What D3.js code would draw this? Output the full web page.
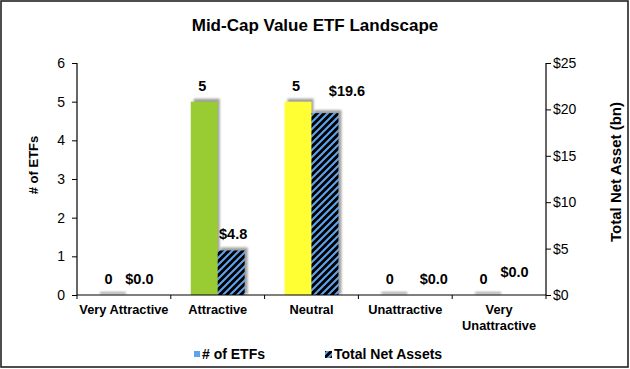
<!DOCTYPE html>
<html><head><meta charset="utf-8">
<script src="https://cdn.jsdelivr.net/npm/d3@7/dist/d3.min.js"></script>
<style>body{margin:0;background:#fff}svg{display:block}text{font-family:Arial,"Liberation Sans",sans-serif}</style>
</head><body>
<svg id="c" width="630" height="369"></svg>
<script>
const categories = ["Very Attractive", "Attractive", "Neutral", "Unattractive", "Very Unattractive"];
const etfCounts = [0, 5, 5, 0, 0];
const netAssets = [0.0, 4.8, 19.6, 0.0, 0.0];
const countColors = ["#2E8B3E", "#99CC33", "#FFFF33", "#FF6633", "#CC0000"];
const leftTicks = [0, 1, 2, 3, 4, 5, 6];
const rightTicks = [0, 5, 10, 15, 20, 25];
const seriesNames = ["# of ETFs", "Total Net Assets"];

const svg = d3.select("#c");
const M = {l: 77, r: 546, t: 63, b: 295};

const defs = svg.append("defs");
const pat = defs.append("pattern").attr("id", "hatch").attr("patternUnits", "userSpaceOnUse")
  .attr("width", 7).attr("height", 7);
pat.append("rect").attr("width", 7).attr("height", 7).attr("fill", "#000");
pat.append("path").attr("d", "M-1,1 l2,-2 M0,7 l7,-7 M6,8 l2,-2")
  .attr("stroke", "#5DA3EE").attr("stroke-width", 2.1);
const blur = defs.append("filter").attr("id", "blur").attr("x", "-30%").attr("y", "-30%").attr("width", "160%").attr("height", "160%");
blur.append("feGaussianBlur").attr("stdDeviation", 1);

svg.append("rect").attr("x", 1).attr("y", 1).attr("width", 627).attr("height", 366)
  .attr("fill", "#fff").attr("stroke", "#222").attr("stroke-width", 1.6);

svg.append("text").attr("x", 315).attr("y", 31).attr("text-anchor", "middle")
  .attr("font-size", 17).attr("font-weight", "bold").text("Mid-Cap Value ETF Landscape");

const x = d3.scaleBand().domain(categories).range([M.l, M.r]).padding(0);
const x1 = d3.scaleBand().domain([0, 1]).range([0, x.bandwidth()]).paddingInner(0).paddingOuter(0.74);
const yL = d3.scaleLinear().domain([0, 6]).range([M.b, M.t]);
const yR = d3.scaleLinear().domain([0, 25]).range([M.b, M.t]);

const data = categories.map((c, i) => ({c, i, n: etfCounts[i], a: netAssets[i]}));

// shadows
const sh = svg.append("g").attr("filter", "url(#blur)").attr("fill", "#a0a0a0");
data.forEach(d => {
  const bx = x(d.c) + x1(0);
  const top = yL(d.n);
  sh.append("rect").attr("x", bx + 3).attr("y", top - 3).attr("width", x1.bandwidth() - 1)
    .attr("height", Math.max(M.b - top, 0) + 2);
  if (d.a > 0) {
    const bx2 = x(d.c) + x1(1);
    const t2 = yR(d.a);
    sh.append("rect").attr("x", bx2 + 3).attr("y", t2 - 3).attr("width", x1.bandwidth())
      .attr("height", M.b - t2 + 2);
  }
});

// bars
svg.append("g").selectAll("rect").data(data).join("rect")
  .attr("x", d => x(d.c) + x1(0)).attr("y", d => yL(d.n))
  .attr("width", x1.bandwidth()).attr("height", d => M.b - yL(d.n))
  .attr("fill", d => countColors[d.i]);
svg.append("g").selectAll("rect").data(data).join("rect")
  .attr("x", d => x(d.c) + x1(1)).attr("y", d => yR(d.a))
  .attr("width", x1.bandwidth()).attr("height", d => M.b - yR(d.a))
  .attr("fill", "url(#hatch)");

// axes
const axL = svg.append("g").attr("transform", `translate(${M.l},0)`)
  .call(d3.axisLeft(yL).tickValues(leftTicks).tickFormat(d3.format("d")).tickSize(5).tickPadding(7));
const axR = svg.append("g").attr("transform", `translate(${M.r},0)`)
  .call(d3.axisRight(yR).tickValues(rightTicks).tickFormat(d => "$" + d).tickSize(5).tickPadding(2));
[axL, axR].forEach(a => {
  a.select(".domain").attr("stroke", "#000").attr("stroke-width", 1.2).attr("d", `M0,${M.t}V${M.b}`);
  a.selectAll(".tick line").attr("stroke", "#000");
  a.selectAll(".tick text").attr("font-size", 14).attr("fill", "#000").attr("font-family", "Arial, Liberation Sans, sans-serif");
});

const axB = svg.append("g");
axB.append("line").attr("x1", M.l).attr("x2", M.r).attr("y1", M.b).attr("y2", M.b).attr("stroke", "#000").attr("stroke-width", 1.2);
const bounds = categories.map(c => x(c)).concat([M.r]);
axB.selectAll("line.tk").data(bounds).join("line").attr("class", "tk")
  .attr("x1", d => d).attr("x2", d => d).attr("y1", M.b).attr("y2", M.b + 4).attr("stroke", "#000");

const labLines = {"Very Unattractive": ["Very", "Unattractive"]};
categories.forEach(c => {
  const lines = labLines[c] || [c];
  const t = axB.append("text").attr("x", x(c) + x.bandwidth() / 2).attr("y", 314)
    .attr("text-anchor", "middle").attr("font-size", 12.8).attr("font-weight", "bold");
  lines.forEach((l, k) => t.append("tspan").attr("x", x(c) + x.bandwidth() / 2).attr("dy", k ? 16 : 0).text(l));
});

// axis titles
svg.append("text").attr("transform", "translate(38,165) rotate(-90)").attr("text-anchor", "middle")
  .attr("font-size", 13).attr("font-weight", "bold").text("# of ETFs");
svg.append("text").attr("transform", "translate(621,172) rotate(-90)").attr("text-anchor", "middle")
  .attr("font-size", 15).attr("font-weight", "bold").text("Total Net Asset (bn)");

// value labels (nudges mimic the chart's label placement)
const nudge = {"1|Neutral": [20, -6], "1|Unattractive": [13, 0], "1|Very Unattractive": [0, -7]};
const lab = svg.append("g").attr("font-size", 14.5).attr("font-weight", "bold").attr("text-anchor", "middle");
data.forEach(d => {
  const n0 = nudge["0|" + d.c] || [0, 0];
  lab.append("text").attr("x", x(d.c) + x1(0) + x1.bandwidth() / 2 - 2 + n0[0])
    .attr("y", yL(d.n) - 11 + n0[1]).text(d3.format("d")(d.n));
  const n1 = nudge["1|" + d.c] || [0, 0];
  lab.append("text").attr("x", x(d.c) + x1(1) + x1.bandwidth() / 2 + 2 + n1[0])
    .attr("y", yR(d.a) - 11 + n1[1]).text("$" + d3.format(".1f")(d.a));
});

// legend
const lg = svg.append("g").attr("font-size", 14).attr("font-weight", "bold");
lg.append("rect").attr("x", 194).attr("y", 351).attr("width", 6).attr("height", 6).attr("fill", "#5DA3EE");
lg.append("text").attr("x", 202).attr("y", 359).text(seriesNames[0]);
lg.append("rect").attr("x", 325).attr("y", 351).attr("width", 7).attr("height", 7).attr("fill", "url(#hatch)");
lg.append("text").attr("x", 334).attr("y", 359).text(seriesNames[1]);
</script>
</body></html>
